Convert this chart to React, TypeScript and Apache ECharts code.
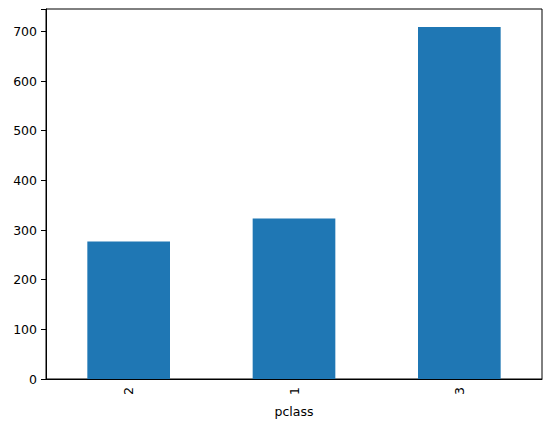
import React, { useEffect, useRef } from 'react';
import * as echarts from 'echarts';

const categories = ['2', '1', '3'];
const counts = [277, 323, 709];
const yTicks = [0, 100, 200, 300, 400, 500, 600, 700];

const FONT = 'DejaVu Sans';

const App: React.FC = () => {
  const chartRef = useRef<HTMLDivElement>(null);

  useEffect(() => {
    if (!chartRef.current) return;
    const chart = echarts.init(chartRef.current, undefined, { renderer: 'svg' });

    const option = {
      animation: false,
      backgroundColor: '#ffffff',
      grid: {
        left: 46,
        right: 10,
        top: 9,
        bottom: 48,
        show: true,
        borderColor: '#000000',
        borderWidth: 1,
      },
      xAxis: {
        type: 'category',
        data: categories,
        name: 'pclass',
        nameLocation: 'middle',
        nameGap: 26,
        nameTextStyle: { color: '#000', fontFamily: FONT, fontSize: 12.5 },
        axisLine: { lineStyle: { color: '#000', width: 1 } },
        axisTick: { alignWithLabel: true, length: 5, lineStyle: { color: '#000' } },
        axisLabel: { rotate: 90, margin: 8, color: '#000', fontFamily: FONT, fontSize: 12.5 },
      },
      yAxis: {
        type: 'value',
        min: 0,
        max: 745,
        interval: 100,
        splitLine: { show: false },
        axisLine: { show: true, lineStyle: { color: '#000', width: 1 } },
        axisTick: { show: true, length: 5, lineStyle: { color: '#000' } },
        axisLabel: {
          margin: 9,
          color: '#000',
          fontFamily: FONT,
          fontSize: 12.5,
          formatter: (v: number) => (yTicks.includes(v) ? String(v) : ''),
        },
      },
      series: [
        {
          type: 'bar',
          data: counts,
          barWidth: '50%',
          itemStyle: { color: '#1f77b4' },
        },
      ],
    };

    chart.setOption(option);
    return () => chart.dispose();
  }, []);

  return (
    <div
      ref={chartRef}
      style={{ position: 'fixed', left: 0, top: 0, width: 552, height: 427 }}
    />
  );
};

export default App;
